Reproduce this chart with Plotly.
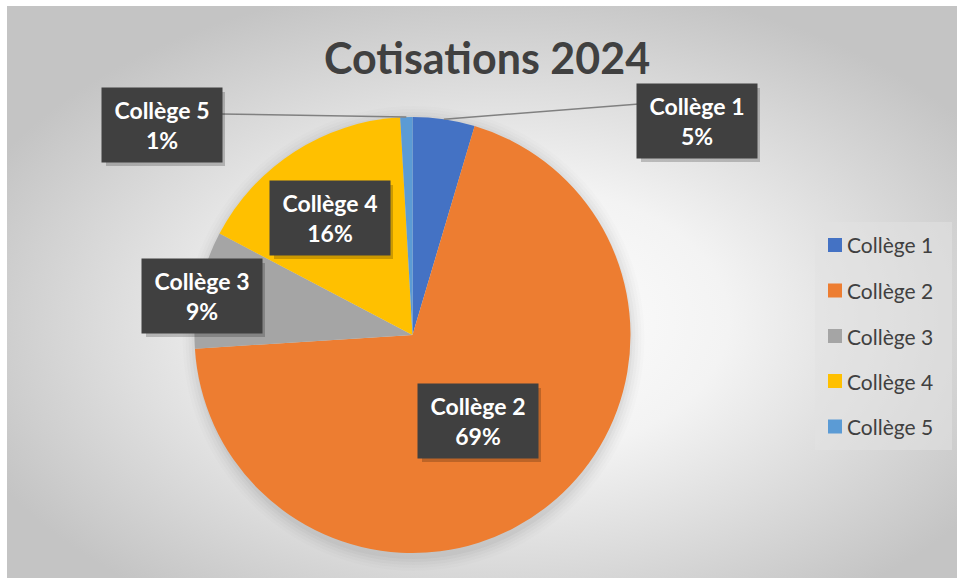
import base64
import math
import plotly.graph_objects as go

# ---- data ----
categories = ["Collège 1", "Collège 2", "Collège 3", "Collège 4", "Collège 5"]
values = [4.6, 69.4, 8.7, 16.4, 0.9]
colors = ["#4472C4", "#ED7D31", "#A5A5A5", "#FFC000", "#5B9BD5"]
title_text = "Cotisations 2024"

# ---- layout (pixels) ----
W, H = 957, 578
def px(x):
    return x / W
def py(y):
    return 1 - y / H

CX, CY, R = 412.5, 335.0, 218.0
# label box centres (layout only)
label_centres = {
    "Collège 1": (697, 121),
    "Collège 2": (478, 421),
    "Collège 3": (202, 296),
    "Collège 4": (330, 218),
    "Collège 5": (162, 125),
}
BOX_W, BOX_H = 118, 72
leader = {"Collège 1": (639, 104), "Collège 5": (221, 114)}

svg = f'''<svg xmlns="http://www.w3.org/2000/svg" width="950" height="572" viewBox="0 0 950 572">
<defs><radialGradient id="g" cx="52%" cy="55%" r="60%">
<stop offset="0" stop-color="#ffffff"/><stop offset="0.4" stop-color="#f3f3f3"/><stop offset="1" stop-color="#c4c4c4"/>
</radialGradient></defs>
<rect width="950" height="572" fill="url(#g)"/></svg>'''
src = "data:image/svg+xml;base64," + base64.b64encode(svg.encode()).decode()

fig = go.Figure()
fig.add_trace(go.Pie(
    labels=categories, values=values, sort=False, direction="clockwise", rotation=0,
    marker=dict(colors=colors, line=dict(width=0)), textinfo="none", hoverinfo="label+percent",
    domain=dict(x=[px(CX - R), px(CX + R)], y=[py(CY + R), py(CY - R)]), showlegend=False,
))

shapes = []
annotations = []

# soft shadow under pie
for i, a in enumerate([0.03, 0.025, 0.02, 0.015, 0.01]):
    g = 1 + i * 3
    shapes.append(dict(type="circle", xref="paper", yref="paper",
                       x0=px(CX - R - g + 1), x1=px(CX + R + g + 1),
                       y0=py(CY + R + g + 5), y1=py(CY - R - g + 2),
                       fillcolor=f"rgba(0,0,0,{a})", line=dict(width=0), layer="below"))

total = sum(values)
cum = 0.0
for cat, v, col in zip(categories, values, colors):
    mid = (cum + v / 2) / total * 2 * math.pi
    cum += v
    pct = round(v / total * 100)
    bx, by = label_centres[cat]
    if cat in leader:
        ex = CX + R * math.sin(mid)
        ey = CY - R * math.cos(mid)
        lx, ly = leader[cat]
        shapes.append(dict(type="line", xref="paper", yref="paper", x0=px(lx), y0=py(ly),
                           x1=px(ex), y1=py(ey), line=dict(color="#808080", width=1.5), layer="above"))
    # shadow
    shapes.append(dict(type="rect", xref="paper", yref="paper",
                       x0=px(bx - BOX_W / 2 + 3), x1=px(bx + BOX_W / 2 + 4),
                       y0=py(by + BOX_H / 2 + 5), y1=py(by - BOX_H / 2 + 3),
                       fillcolor="rgba(0,0,0,0.2)", line=dict(width=0), layer="above"))
    annotations.append(dict(
        x=px(bx), y=py(by), xref="paper", yref="paper", showarrow=False,
        xanchor="center", yanchor="middle",
        text=f"{cat}<br>{pct}%", width=BOX_W, height=BOX_H, bgcolor="#404040",
        font=dict(family="Lato", size=23, color="white", weight="bold"), align="center", valign="middle",
    ))

# legend (manual)
shapes.append(dict(type="rect", xref="paper", yref="paper", x0=px(815), x1=px(952), y0=py(450), y1=py(222),
                   fillcolor="rgba(225,225,225,0.55)", line=dict(width=0), layer="below"))
leg_rows = [245, 290.5, 336, 381, 426.5]
for cat, col, ry in zip(categories, colors, leg_rows):
    shapes.append(dict(type="rect", xref="paper", yref="paper", x0=px(828), x1=px(842),
                       y0=py(ry + 7), y1=py(ry - 7), fillcolor=col, line=dict(width=0), layer="above"))
    annotations.append(dict(x=px(845), y=py(ry), xref="paper", yref="paper", showarrow=False,
                            xanchor="left", yanchor="middle", text=cat,
                            font=dict(family="Lato", size=21, color="#404040")))

annotations.append(dict(x=px(487), y=py(58), xref="paper", yref="paper", showarrow=False,
                        xanchor="center", yanchor="middle",
                        text=title_text, font=dict(family="Lato", size=43, color="#404040", weight="bold")))

fig.update_layout(
    width=W, height=H, margin=dict(l=0, r=0, t=0, b=0), paper_bgcolor="white",
    images=[dict(source=src, xref="paper", yref="paper", x=px(7), y=py(6), sizex=950 / W, sizey=572 / H,
                 xanchor="left", yanchor="top", sizing="stretch", layer="below")],
    shapes=shapes, annotations=annotations,
)
fig.write_html("out.html", config={"displayModeBar": False},
               post_script="document.body.style.margin='0';document.body.style.padding='0';")
